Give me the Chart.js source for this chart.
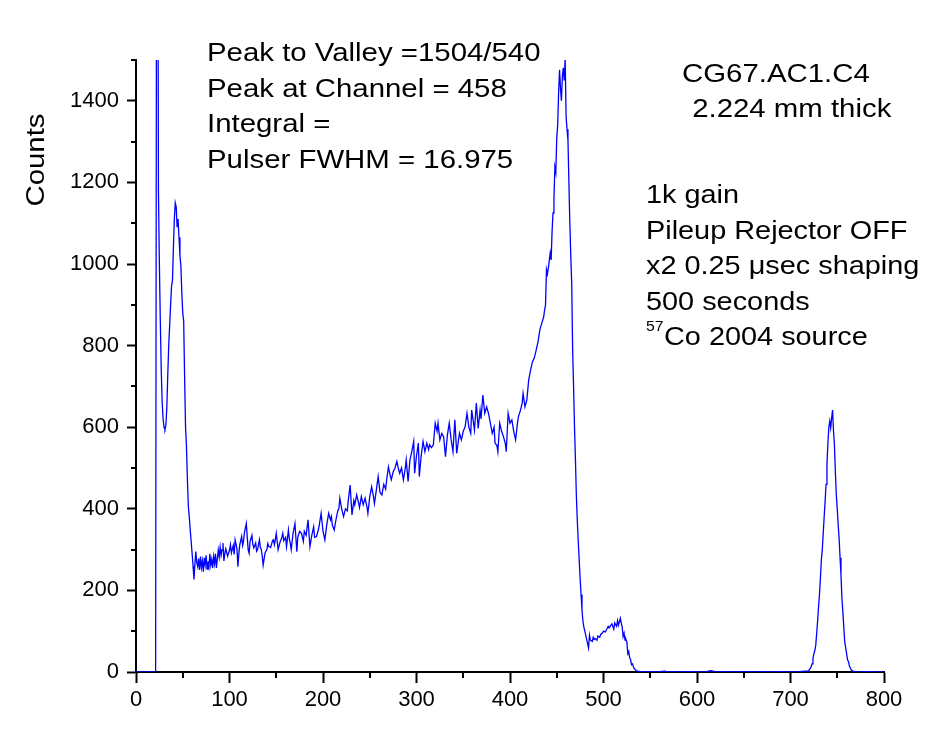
<!DOCTYPE html>
<html>
<head>
<meta charset="utf-8">
<script src="https://cdn.jsdelivr.net/npm/chart.js@4.4.1/dist/chart.umd.min.js"></script>
<style>
  body { margin: 0; background: #fff; }
  #wrap { width: 925px; height: 735px; }
</style>
</head>
<body>
<div id="wrap"><canvas id="spectrum" width="925" height="735"></canvas></div>
<script>
// channel numbers (x) and counts (y)
const channels = [
  0, 5, 10, 15, 20, 21, 22, 23, 24, 25, 26, 27, 28, 29, 30, 31, 32, 33, 34, 35,
  36, 37, 38, 39, 40, 41, 42, 43, 44, 45, 46, 47, 48, 49, 50, 51, 52, 53, 54, 55,
  56, 57, 58, 59, 60, 61, 62, 63, 64, 65, 66, 67, 68, 69, 70, 71, 72, 73, 74, 75,
  76, 77, 78, 79, 80, 81, 82, 83, 84, 85, 86, 88, 89, 90, 91, 92, 93, 94, 95, 96,
  98, 100, 101, 102, 104, 105, 106, 108, 109, 110, 111, 113, 114, 115, 116, 118, 119, 120, 121, 122,
  124, 125, 126, 128, 129, 130, 132, 133, 134, 135, 136, 138, 140, 141, 142, 144, 146, 147, 148, 149,
  150, 152, 154, 156, 157, 158, 160, 161, 163, 164, 165, 166, 168, 170, 172, 173, 175, 177, 179, 180,
  182, 184, 186, 188, 190, 191, 193, 195, 196, 198, 200, 202, 204, 206, 208, 209, 210, 212, 214, 216,
  217, 218, 220, 222, 224, 226, 227, 229, 231, 233, 234, 236, 238, 239, 241, 243, 245, 247, 248, 250,
  252, 254, 255, 257, 259, 261, 263, 265, 267, 268, 270, 272, 273, 275, 277, 279, 281, 282, 284, 286,
  288, 289, 291, 293, 295, 297, 298, 300, 302, 303, 305, 307, 309, 311, 313, 314, 316, 318, 320, 322,
  323, 325, 327, 329, 331, 333, 335, 337, 339, 341, 343, 345, 346, 348, 350, 352, 354, 356, 358, 359,
  361, 362, 364, 366, 368, 369, 371, 373, 375, 377, 379, 381, 383, 384, 386, 387, 389, 391, 393, 395,
  396, 398, 400, 402, 404, 406, 408, 409, 411, 413, 414, 416, 418, 420, 422, 424, 426, 428, 430, 432,
  434, 436, 437, 438, 439, 440, 441, 443, 444, 445, 446, 447, 448, 449, 450, 451, 452, 453, 454, 455,
  456, 457, 458, 459, 460, 461, 462, 463, 464, 465, 466, 467, 468, 469, 470, 471, 472, 473, 474, 475,
  476, 477, 478, 479, 480, 482, 484, 485, 486, 488, 489, 490, 491, 493, 494, 496, 497, 499, 500, 502,
  503, 505, 506, 508, 509, 511, 512, 514, 515, 516, 518, 519, 520, 521, 522, 523, 524, 525, 526, 527,
  528, 529, 530, 531, 532, 533, 535, 537, 540, 545, 550, 555, 560, 565, 570, 575, 580, 590, 600, 610,
  615, 620, 630, 640, 650, 660, 670, 680, 690, 700, 710, 715, 719, 721, 722, 723, 724, 725, 726, 727,
  728, 729, 730, 731, 732, 733, 734, 735, 736, 737, 738, 739, 740, 741, 742, 743, 744, 745, 746, 747,
  748, 749, 750, 751, 752, 753, 754, 755, 756, 757, 758, 759, 760, 761, 762, 763, 764, 765, 767, 770,
  780, 790, 800
];
const counts = [
  0, 0, 0, 0, 0, 0, 1900, 2300, 1180, 1000, 860, 740, 660, 620, 600, 595, 605, 650, 730, 800,
  850, 900, 945, 960, 1040, 1110, 1150, 1140, 1090, 1110, 1065, 1020, 995, 930, 880, 860, 720, 600, 552, 470,
  405, 380, 348, 320, 291, 260, 227, 265, 295, 268, 258, 278, 250, 283, 256, 272, 246, 280, 262, 286,
  252, 271, 258, 290, 262, 276, 255, 283, 266, 290, 255, 299, 282, 306, 286, 300, 316, 272, 290, 302,
  284, 299, 312, 292, 310, 288, 324, 302, 258, 290, 312, 332, 310, 320, 342, 364, 330, 299, 291, 320,
  335, 312, 304, 316, 296, 300, 324, 305, 300, 285, 262, 292, 300, 315, 308, 305, 322, 324, 312, 324,
  340, 300, 318, 330, 340, 322, 330, 307, 348, 326, 315, 300, 340, 364, 295, 330, 345, 340, 320, 345,
  335, 373, 307, 335, 356, 330, 332, 348, 360, 389, 345, 324, 360, 389, 373, 381, 360, 348, 375, 397,
  400, 426, 400, 381, 400, 395, 420, 458, 385, 420, 410, 434, 415, 403, 430, 410, 426, 405, 389, 430,
  454, 430, 413, 445, 479, 440, 434, 460, 448, 470, 503, 480, 471, 490, 500, 516, 495, 487, 500, 471,
  500, 520, 467, 520, 540, 565, 487, 530, 561, 479, 530, 565, 540, 561, 545, 557, 550, 557, 610, 590,
  610, 569, 585, 577, 528, 580, 610, 570, 540, 618, 536, 570, 585, 569, 590, 601, 634, 600, 585, 642,
  610, 593, 659, 597, 642, 620, 679, 634, 650, 634, 610, 585, 600, 561, 555, 540, 610, 590, 577, 560,
  540, 634, 610, 618, 590, 569, 610, 626, 640, 659, 683, 650, 667, 716, 740, 760, 770, 789, 810, 840,
  855, 870, 887, 900, 986, 975, 990, 1027, 1010, 1080, 1125, 1160, 1238, 1225, 1309, 1340, 1420, 1476, 1430, 1400,
  1460, 1481, 1450, 1504, 1361, 1330, 1304, 1200, 1100, 1020, 953, 789, 700, 600, 520, 430, 370, 320, 275, 230,
  190, 152, 125, 110, 100, 80, 59, 90, 78, 75, 85, 80, 82, 78, 88, 85, 92, 96, 100, 98,
  103, 112, 108, 115, 118, 105, 120, 112, 126, 115, 132, 120, 110, 87, 95, 78, 80, 73, 45, 50,
  35, 30, 18, 20, 13, 8, 3, 2, 1, 0, 1, 0, 1, 2, 0, 1, 0, 1, 0, 1,
  3, 0, 1, 0, 1, 0, 1, 0, 1, 0, 1, 2, 2, 8, 12, 20, 33, 45, 52, 66,
  95, 125, 160, 190, 230, 275, 300, 340, 380, 418, 460, 510, 560, 600, 615, 598, 623, 642, 590, 556,
  490, 434, 400, 360, 328, 280, 238, 180, 148, 110, 74, 60, 45, 30, 25, 15, 10, 5, 2, 0,
  1, 0, 0
];

// axis ranges and tick steps
const xRange = [0, 800];
const yRange = [0, 1500];
const xMajorStep = 100;
const yMajorStep = 200;
const xMinorTicks = [50, 150, 250, 350, 450, 550, 650, 750];
const yMinorTicks = [100, 300, 500, 700, 900, 1100, 1300, 1500];

// annotation text
const infoLeft = [
  'Peak to Valley =1504/540',
  'Peak at Channel = 458',
  'Integral =',
  'Pulser FWHM = 16.975'
];
const infoSample = ['CG67.AC1.C4', ' 2.224 mm thick'];
const infoSetup = ['1k gain', 'Pileup Rejector OFF', 'x2 0.25 \u03bcsec shaping', '500 seconds'];
const sourceIsotope = '57';
const sourceText = 'Co 2004 source';
const yTitle = 'Counts';

const FONT = '"Liberation Sans", Arial, sans-serif';

// draws the text blocks, the y title and the short minor ticks
const annotate = {
  id: 'annotate',
  afterDraw(chart) {
    const ctx = chart.ctx;
    const sx = chart.scales.x, sy = chart.scales.y;
    ctx.save();
    ctx.fillStyle = '#000';
    ctx.textBaseline = 'alphabetic';
    ctx.textAlign = 'left';

    function stretched(text, x, y, size, k) {
      ctx.save();
      ctx.font = size + 'px ' + FONT;
      ctx.translate(x, y);
      ctx.scale(k || 1.13, 1);
      ctx.fillText(text, 0, 0);
      ctx.restore();
    }

    infoLeft.forEach((t, i) => stretched(t, 207, 61 + i * 35.7, 26));
    stretched(infoSample[0], 682, 82, 26);
    stretched(infoSample[1], 684, 117, 26);
    infoSetup.forEach((t, i) => stretched(t, 646, 203 + i * 35.5, 26, 1.11));
    stretched(sourceIsotope, 646, 331, 14);
    stretched(sourceText, 664, 345, 26, 1.11);

    // y title near the top of the axis
    ctx.save();
    ctx.font = '26px ' + FONT;
    ctx.translate(44, 160);
    ctx.rotate(-Math.PI / 2);
    ctx.scale(1.13, 1);
    ctx.textAlign = 'center';
    ctx.fillText(yTitle, 0, 0);
    ctx.restore();

    // minor ticks
    ctx.strokeStyle = '#000';
    ctx.lineWidth = 2;
    ctx.beginPath();
    xMinorTicks.forEach(v => {
      const px = Math.round(sx.getPixelForValue(v));
      ctx.moveTo(px, sx.top);
      ctx.lineTo(px, sx.top + 6);
    });
    yMinorTicks.forEach(v => {
      const py = Math.round(sy.getPixelForValue(v));
      ctx.moveTo(sy.right, py);
      ctx.lineTo(sy.right - 5, py);
    });
    ctx.stroke();
    ctx.restore();
  }
};

const points = channels.map((c, i) => ({ x: c, y: counts[i] }));

new Chart(document.getElementById('spectrum'), {
  type: 'line',
  data: {
    datasets: [{
      data: points,
      borderColor: '#0000ff',
      borderWidth: 1.3,
      pointRadius: 0,
      tension: 0,
      fill: false
    }]
  },
  options: {
    responsive: false,
    animation: false,
    devicePixelRatio: 1,
    layout: { padding: { top: 60, right: 41, left: 0, bottom: 0 } },
    plugins: {
      legend: { display: false },
      tooltip: { enabled: false }
    },
    scales: {
      x: {
        type: 'linear',
        min: xRange[0],
        max: xRange[1],
        afterFit(scale) { scale.height = 63; },
        border: { color: '#000', width: 2 },
        grid: { drawOnChartArea: false, drawTicks: true, tickLength: 11, tickWidth: 2, tickColor: '#000' },
        ticks: {
          stepSize: xMajorStep,
          color: '#000',
          padding: 4,
          maxRotation: 0,
          font: { family: FONT, size: 22 },
          callback: v => String(v)
        }
      },
      y: {
        min: yRange[0],
        max: yRange[1],
        afterFit(scale) { scale.width = 136; },
        afterBuildTicks(scale) {
          scale.ticks = scale.ticks.filter(t => t.value % yMajorStep === 0);
        },
        border: { color: '#000', width: 2 },
        grid: { drawOnChartArea: false, drawTicks: true, tickLength: 9, tickWidth: 2, tickColor: '#000' },
        ticks: {
          stepSize: yMajorStep,
          color: '#000',
          padding: 8,
          font: { family: FONT, size: 22 },
          callback: v => String(v)
        }
      }
    }
  },
  plugins: [annotate]
});
</script>
</body>
</html>
